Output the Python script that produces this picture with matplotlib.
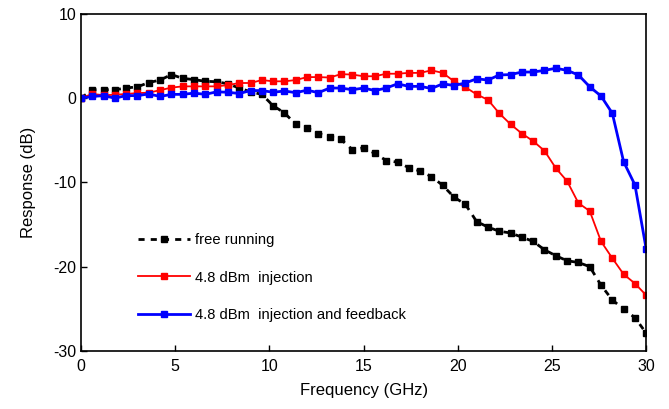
import numpy as np
import matplotlib
matplotlib.use("Agg")
import matplotlib.pyplot as plt

plt.rcParams['font.family'] = ['Liberation Sans', 'DejaVu Sans']
plt.rcParams['axes.unicode_minus'] = False

# ---------------------------------------------------
# Data
# ---------------------------------------------------
freq = [0.0, 0.6, 1.2, 1.8, 2.4, 3.0, 3.6, 4.2, 4.8, 5.4,
        6.0, 6.6, 7.2, 7.8, 8.4, 9.0, 9.6, 10.2, 10.8, 11.4,
        12.0, 12.6, 13.2, 13.8, 14.4, 15.0, 15.6, 16.2, 16.8, 17.4,
        18.0, 18.6, 19.2, 19.8, 20.4, 21.0, 21.6, 22.2, 22.8, 23.4,
        24.0, 24.6, 25.2, 25.8, 26.4, 27.0, 27.6, 28.2, 28.8, 29.4,
        30.0]

free_running = [0.0, 1.0, 1.0, 1.0, 1.2, 1.35, 1.85, 2.15, 2.8, 2.35,
                2.2, 2.0, 1.95, 1.7, 1.2, 0.75, 0.45, -0.9, -1.75, -3.1,
                -3.55, -4.2, -4.6, -4.9, -6.1, -5.9, -6.55, -7.4, -7.6, -8.25,
                -8.65, -9.3, -10.35, -11.75, -12.6, -14.65, -15.3, -15.8, -16.0, -16.5,
                -17.0, -18.0, -18.7, -19.3, -19.5, -20.0, -22.2, -23.95, -25.05, -26.05,
                -27.9]

injection = [0.0, 0.5, 0.35, 0.4, 0.5, 0.6, 0.65, 0.95, 1.25, 1.4,
             1.4, 1.4, 1.4, 1.55, 1.8, 1.8, 2.15, 2.0, 2.0, 2.15,
             2.5, 2.5, 2.45, 2.85, 2.8, 2.6, 2.6, 2.9, 2.9, 3.0,
             3.0, 3.3, 3.0, 2.0, 1.3, 0.45, -0.2, -1.8, -3.1, -4.2,
             -5.1, -6.25, -8.3, -9.85, -12.45, -13.4, -17.0, -19.0, -20.9, -22.0,
             -23.4]

inj_feedback = [0.0, 0.2, 0.3, 0.0, 0.3, 0.3, 0.5, 0.2, 0.45, 0.45,
                0.6, 0.45, 0.75, 0.7, 0.55, 0.9, 0.9, 0.7, 0.85, 0.65,
                0.95, 0.65, 1.2, 1.2, 1.0, 1.2, 0.9, 1.2, 1.7, 1.4,
                1.4, 1.15, 1.7, 1.5, 1.8, 2.3, 2.15, 2.75, 2.8, 3.1,
                3.1, 3.3, 3.55, 3.3, 2.75, 1.35, 0.25, -1.8, -7.55, -10.3,
                -17.95]

labels = ["free running", "4.8 dBm  injection", "4.8 dBm  injection and feedback"]

# ---------------------------------------------------
# Plot
# ---------------------------------------------------
fig = plt.figure(figsize=(6.69, 4.09), dpi=100)
ax = fig.add_axes([0.121, 0.142, 0.845, 0.824])

ax.plot(freq, free_running, color='black', linestyle=(0, (2.2, 2.2)), linewidth=2,
        marker='s', markersize=4.8, label=labels[0])
ax.plot(freq, injection, color='red', linewidth=1.3,
        marker='s', markersize=4.5, label=labels[1])
ax.plot(freq, inj_feedback, color='blue', linewidth=2,
        marker='s', markersize=5, label=labels[2])

ax.set_xlim(0, 30)
ax.set_ylim(-30, 10)
ax.set_xticks(range(0, 31, 5))
ax.set_yticks(range(-30, 11, 10))
ax.tick_params(direction='in', length=4, labelsize=11.5, width=1)
ax.tick_params(axis='x', pad=6)
for s in ax.spines.values():
    s.set_linewidth(1.2)

ax.set_xlabel("Frequency (GHz)", fontsize=12, labelpad=6)
ax.set_ylabel("Response (dB)", fontsize=12, labelpad=12)

ax.legend(loc='upper left', bbox_to_anchor=(0.078, 0.39), frameon=False,
          fontsize=10.6, handlelength=3.5, labelspacing=1.62, handletextpad=0.35)

fig.savefig("out.png", dpi=100)
